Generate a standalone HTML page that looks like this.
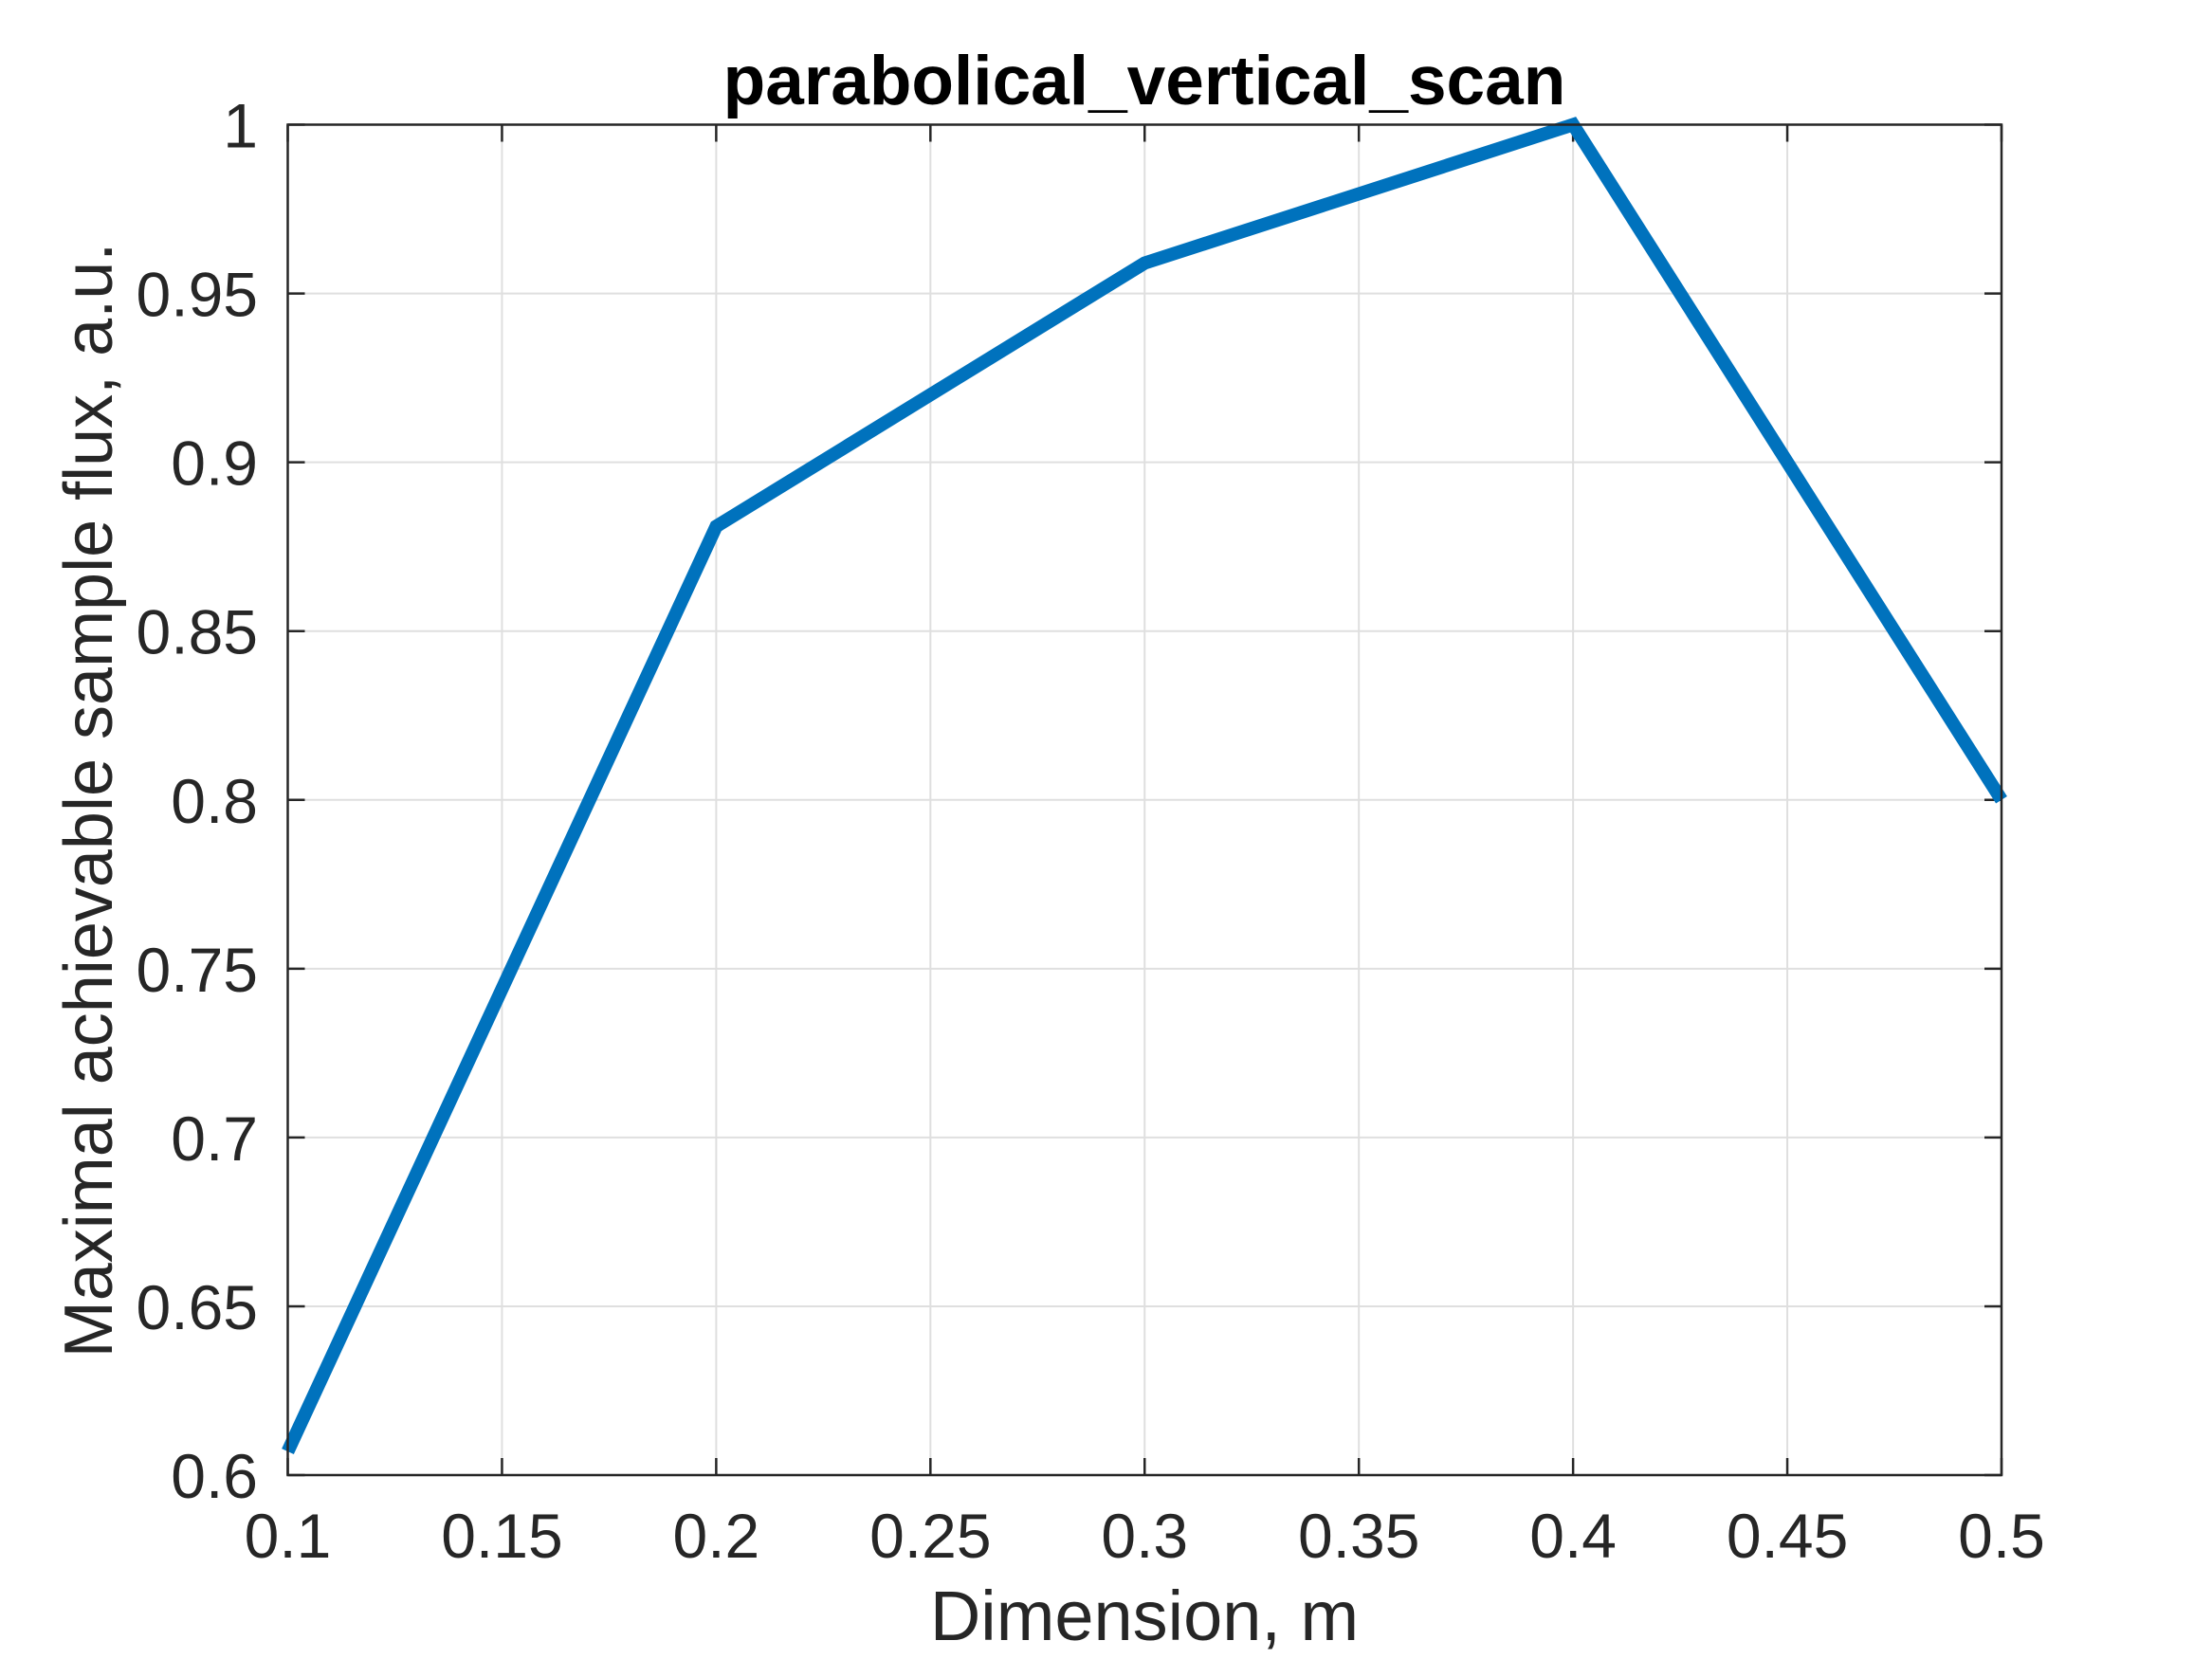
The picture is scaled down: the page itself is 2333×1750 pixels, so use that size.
<!DOCTYPE html>
<html><head><meta charset="utf-8"><style>
html,body{margin:0;padding:0;background:#fff}
svg{display:block;font-family:"Liberation Sans",Arial,sans-serif}
</style></head><body>
<svg id="chart" width="2333" height="1750" viewBox="0 0 2333 1750">
<rect width="2333" height="1750" fill="#fff"/>
<g id="grid"></g><g id="ticks"></g><g id="series"></g><g id="labels"></g>
<rect x="303.5" y="131.5" width="1807.5" height="1424.5" fill="none" stroke="#262626" stroke-width="2.5"/>
<text x="1207" y="110" text-anchor="middle" font-size="73" font-weight="bold" fill="#000">parabolical_vertical_scan</text>
<text x="1207" y="1730" text-anchor="middle" font-size="74" fill="#262626">Dimension, m</text>
<text transform="translate(118,844) rotate(-90)" text-anchor="middle" font-size="72" fill="#262626">Maximal achievable sample flux, a.u.</text>
</svg>
<script>
const xs = [0.1, 0.2, 0.3, 0.4, 0.5];
const ys = [0.607, 0.881, 0.959, 1.0, 0.8];
const xTicks = [0.1, 0.15, 0.2, 0.25, 0.3, 0.35, 0.4, 0.45, 0.5];
const yTicks = [0.6, 0.65, 0.7, 0.75, 0.8, 0.85, 0.9, 0.95, 1];
const L=303.5,R=2111,T=131.5,B=1556;
const sx=v=>L+(v-0.1)/0.4*(R-L);
const sy=v=>B-(v-0.6)/0.4*(B-T);
const NS='http://www.w3.org/2000/svg';
function mk(tag,attrs,parent){const e=document.createElementNS(NS,tag);for(const k in attrs)e.setAttribute(k,attrs[k]);document.getElementById(parent).appendChild(e);return e;}
xTicks.forEach(t=>{
  const x=sx(t);
  let g=mk('line',{x1:x,x2:x,y1:T,y2:B,stroke:'#dfdfdf','stroke-width':2},'grid');
  
  
  let a=mk('line',{x1:x,x2:x,y1:B,y2:B-18,stroke:'#262626','stroke-width':2.5},'ticks');
  
  
  let b=mk('line',{x1:x,x2:x,y1:T,y2:T+18,stroke:'#262626','stroke-width':2.5},'ticks');
  
  
  let l=mk('text',{x:x,y:1643,'text-anchor':'middle','font-size':66,fill:'#262626'},'labels');
  l.textContent=String(t);
  
  
});
yTicks.forEach(t=>{
  const y=sy(t);
  let g=mk('line',{x1:L,x2:R,y1:y,y2:y,stroke:'#dfdfdf','stroke-width':2},'grid');
  
  
  let a=mk('line',{x1:L,x2:L+18,y1:y,y2:y,stroke:'#262626','stroke-width':2.5},'ticks');
  
  
  let b=mk('line',{x1:R,x2:R-18,y1:y,y2:y,stroke:'#262626','stroke-width':2.5},'ticks');
  
  
  let l=mk('text',{x:272,y:y+24,'text-anchor':'end','font-size':66,fill:'#262626'},'labels');
  l.textContent=String(t);
  
  
});
const pts=xs.map((x,i)=>sx(x)+','+sy(ys[i])).join(' ');
let p=mk('polyline',{points:pts,fill:'none',stroke:'#0072BD','stroke-width':14,'stroke-linejoin':'miter'},'series');


</script>
</body></html>
